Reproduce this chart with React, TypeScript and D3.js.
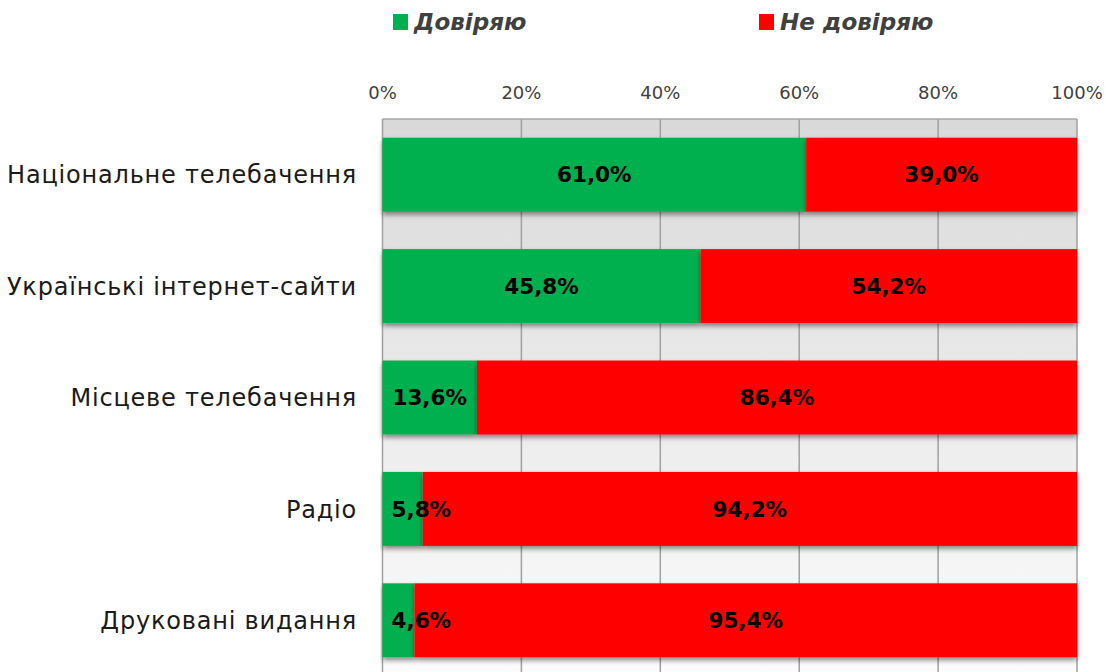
import React from 'react';
import * as d3 from 'd3';

const categories = [
  'Національне телебачення',
  'Українські інтернет-сайти',
  'Місцеве телебачення',
  'Радіо',
  'Друковані видання',
];
const trust = [61.0, 45.8, 13.6, 5.8, 4.6];
const distrust = [39.0, 54.2, 86.4, 94.2, 95.4];
const seriesNames = ['Довіряю', 'Не довіряю'];
const seriesColors = ['#00b050', '#ff0000'];
const tickValues = [0, 20, 40, 60, 80, 100];

const W = 1106;
const H = 672;
const margin = { top: 119, left: 382.5, right: 29 };
const FONT = '"DejaVu Sans", sans-serif';

const fmt = (v: number) => v.toFixed(1).replace('.', ',') + '%';

const App = () => {
  const x = d3.scaleLinear().domain([0, 100]).range([margin.left, W - margin.right]);
  const y = d3
    .scaleBand<string>()
    .domain(categories)
    .range([margin.top, margin.top + 557])
    .paddingInner(0.336)
    .paddingOuter(0.168);

  const rows = categories.map((c, i) => ({ name: c, values: [trust[i], distrust[i]] }));
  const stack = d3.stack<any>().keys(['0', '1'])(rows.map((r) => ({ '0': r.values[0], '1': r.values[1] })));

  const plotBottom = margin.top + 560;
  const legendX = [393, 759];

  return (
    <svg width={W} height={H} style={{ position: 'fixed', left: 0, top: 0, background: '#fff' }}>
      <defs>
        <linearGradient id="bg" x1="0" y1="0" x2="0" y2="1">
          <stop offset="0%" stopColor="#d9d9d9" />
          <stop offset="100%" stopColor="#fcfcfc" />
        </linearGradient>
        <filter id="shadow" x="-5%" y="-20%" width="110%" height="160%">
          <feDropShadow dx="0" dy="3" stdDeviation="2.5" floodColor="#000" floodOpacity="0.45" />
        </filter>
      </defs>

      {/* legend */}
      {seriesNames.map((s, i) => (
        <g key={s}>
          <rect x={legendX[i]} y={14} width={15} height={16} fill={seriesColors[i]} />
          <text
            x={legendX[i] + 21}
            y={30}
            fontFamily={FONT}
            fontSize={23}
            fontStyle="italic"
            fontWeight="bold"
            fill="#404040"
          >
            {s}
          </text>
        </g>
      ))}

      {/* plot background */}
      <rect x={x(0)} y={margin.top} width={x(100) - x(0)} height={plotBottom - margin.top} fill="url(#bg)" />
      {tickValues.map((t) => (
        <line key={t} x1={x(t)} x2={x(t)} y1={margin.top} y2={plotBottom} stroke="#a0a0a0" strokeWidth={1.5} />
      ))}
      <line x1={x(0)} x2={x(100)} y1={margin.top} y2={margin.top} stroke="#a6a6a6" strokeWidth={1.5} />

      {/* tick labels */}
      {tickValues.map((t) => (
        <text key={t} x={x(t)} y={99} textAnchor="middle" fontFamily={FONT} fontSize={18} fill="#404040">
          {t}%
        </text>
      ))}

      {/* bars */}
      {stack.map((layer, si) =>
        layer.map((d, ci) => (
          <rect
            key={`${si}-${ci}`}
            x={x(d[0])}
            y={y(categories[ci])}
            width={x(d[1]) - x(d[0])}
            height={y.bandwidth()}
            fill={seriesColors[si]}
            filter="url(#shadow)"
          />
        ))
      )}

      {/* data labels */}
      {stack.map((layer, si) =>
        layer.map((d, ci) => {
          const x0 = x(d[0]);
          const x1 = x(d[1]);
          const narrow = x1 - x0 < 70;
          return (
            <text
              key={`l-${si}-${ci}`}
              x={narrow ? x0 + 9 : (x0 + x1) / 2}
              y={(y(categories[ci]) as number) + y.bandwidth() / 2}
              dy="0.36em"
              textAnchor={narrow ? 'start' : 'middle'}
              fontFamily={FONT}
              fontSize={21.5}
              fontWeight="bold"
              fill="#000"
            >
              {fmt(rows[ci].values[si])}
            </text>
          );
        })
      )}

      {/* category labels */}
      {categories.map((c) => (
        <text
          key={c}
          x={357}
          y={(y(c) as number) + y.bandwidth() / 2}
          dy="0.36em"
          textAnchor="end"
          fontFamily={FONT}
          fontSize={24}
          letterSpacing={0.8}
          fill="#1a1a1a"
        >
          {c}
        </text>
      ))}
    </svg>
  );
};

export default App;
